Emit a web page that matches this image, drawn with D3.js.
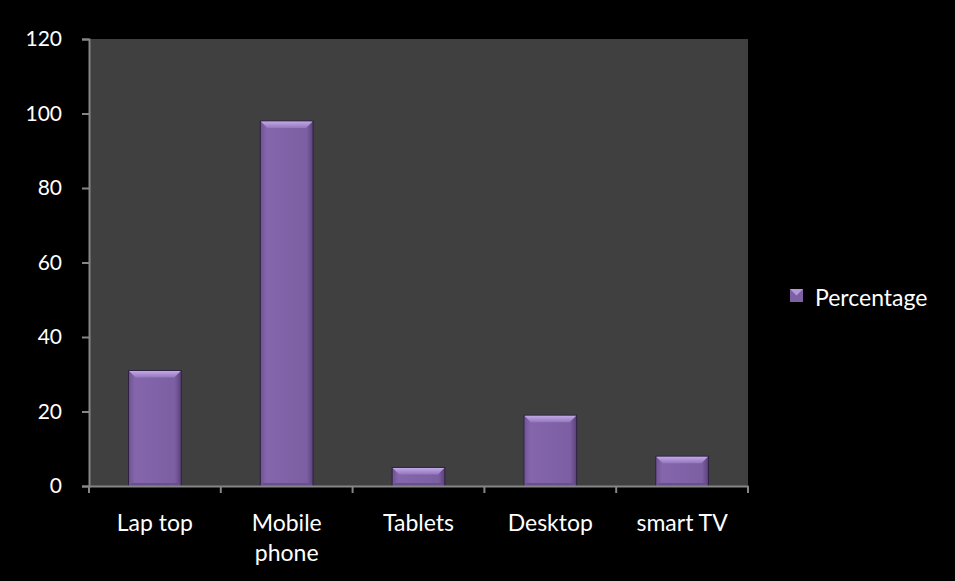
<!DOCTYPE html>
<html>
<head>
<meta charset="utf-8">
<script src="https://cdn.jsdelivr.net/npm/d3@7"></script>
<style>
  body { margin: 0; background: #000; }
  text { font-family: Lato, "Open Sans", sans-serif; }
</style>
</head>
<body>
<div id="chart"></div>
<script>
const categories = ["Lap top", "Mobile phone", "Tablets", "Desktop", "smart TV"];
const percentage = [31, 98, 5, 19, 8];
const yTicks = [0, 20, 40, 60, 80, 100, 120];
const seriesName = "Percentage";

const width = 955, height = 581;
const margin = {top: 39, right: 207, bottom: 95, left: 89};

const svg = d3.select("#chart")
  .append("svg")
  .attr("width", width)
  .attr("height", height);

svg.append("rect").attr("width", width).attr("height", height).attr("fill", "#000");

const x = d3.scaleBand()
  .domain(categories)
  .range([margin.left, width - margin.right]);

const y = d3.scaleLinear()
  .domain([0, 120])
  .range([height - margin.bottom, margin.top]);

// plot area
svg.append("rect")
  .attr("x", margin.left)
  .attr("y", margin.top)
  .attr("width", width - margin.left - margin.right)
  .attr("height", height - margin.top - margin.bottom)
  .attr("fill", "#404040");

// gradient for bars
const defs = svg.append("defs");
const grad = defs.append("linearGradient").attr("id", "barGrad")
  .attr("x1", 0).attr("x2", 1).attr("y1", 0).attr("y2", 0);
grad.append("stop").attr("offset", "0%").attr("stop-color", "#6f5392");
grad.append("stop").attr("offset", "12%").attr("stop-color", "#8566ad");
grad.append("stop").attr("offset", "88%").attr("stop-color", "#7c5ea3");
grad.append("stop").attr("offset", "100%").attr("stop-color", "#5a4179");

const topGrad = defs.append("linearGradient").attr("id", "topGrad")
  .attr("x1", 0).attr("x2", 0).attr("y1", 0).attr("y2", 1);
topGrad.append("stop").attr("offset", "0%").attr("stop-color", "#c2a9e6");
topGrad.append("stop").attr("offset", "100%").attr("stop-color", "#9477bd");

const barW = x.bandwidth() * 0.4;
const bev = 7;

const bars = svg.append("g")
  .selectAll("g")
  .data(categories.map((c, i) => ({cat: c, val: percentage[i]})))
  .join("g")
  .attr("transform", d => `translate(${x(d.cat) + (x.bandwidth() - barW) / 2},0)`);

bars.append("rect")
  .attr("x", 0)
  .attr("y", d => y(d.val))
  .attr("width", barW)
  .attr("height", d => y(0) - y(d.val))
  .attr("fill", "url(#barGrad)")
  .attr("stroke", "#2e2240")
  .attr("stroke-width", 1);

// top bevel
bars.append("path")
  .attr("d", d => {
    const t = y(d.val);
    return `M0.5,${t + 0.5} L${barW - 0.5},${t + 0.5} L${barW - bev},${t + bev} L${bev},${t + bev} Z`;
  })
  .attr("fill", "url(#topGrad)");

// bottom bevel
bars.append("path")
  .attr("d", d => {
    const b = y(0);
    return `M0,${b} L${barW},${b} L${barW - 3},${b - 3} L3,${b - 3} Z`;
  })
  .attr("fill", "#6a4f8e");

// y axis
const yAxis = svg.append("g")
  .attr("transform", `translate(${margin.left},0)`)
  .call(d3.axisLeft(y).tickValues(yTicks).tickSize(7).tickPadding(20));
yAxis.select(".domain").attr("stroke", "#868686").attr("stroke-width", 2);
yAxis.selectAll(".tick line").attr("stroke", "#868686").attr("stroke-width", 2);
yAxis.selectAll(".tick text").attr("fill", "#fff").attr("font-size", 21);

// x axis
const xAxis = svg.append("g")
  .attr("transform", `translate(0,${y(0)})`)
  .call(d3.axisBottom(x).tickSize(0).tickFormat(""));
xAxis.select(".domain").attr("stroke", "#868686").attr("stroke-width", 2);
xAxis.selectAll(".tick").remove();

const edges = categories.map(c => x(c)).concat([x(categories[categories.length - 1]) + x.bandwidth()]);
xAxis.selectAll("line.edge")
  .data(edges)
  .join("line")
  .attr("class", "edge")
  .attr("x1", d => d).attr("x2", d => d)
  .attr("y1", 0).attr("y2", 7)
  .attr("stroke", "#868686").attr("stroke-width", 2);

// x labels (wrap long labels)
svg.append("g")
  .attr("text-anchor", "middle")
  .attr("font-size", 23)
  .attr("fill", "#fff")
  .selectAll("text")
  .data(categories)
  .join("text")
  .attr("x", d => x(d) + x.bandwidth() / 2)
  .attr("y", y(0) + 45)
  .selectAll("tspan")
  .data(d => d.length > 8 ? d.split(" ") : [d])
  .join("tspan")
  .attr("x", function() { return this.parentNode.getAttribute("x"); })
  .attr("dy", (d, i) => i ? 30 : 0)
  .text(d => d);

// legend
const legend = svg.append("g").attr("transform", "translate(790,289)");
legend.append("rect")
  .attr("width", 13).attr("height", 13)
  .attr("fill", "#7e60a4");
legend.append("path")
  .attr("d", "M0,0 L13,0 L6.5,6.5 Z")
  .attr("fill", "#b49ad8");
legend.append("text")
  .attr("x", 25)
  .attr("y", 17)
  .attr("fill", "#fff")
  .attr("font-size", 23)
  .text(seriesName);
</script>
</body>
</html>
